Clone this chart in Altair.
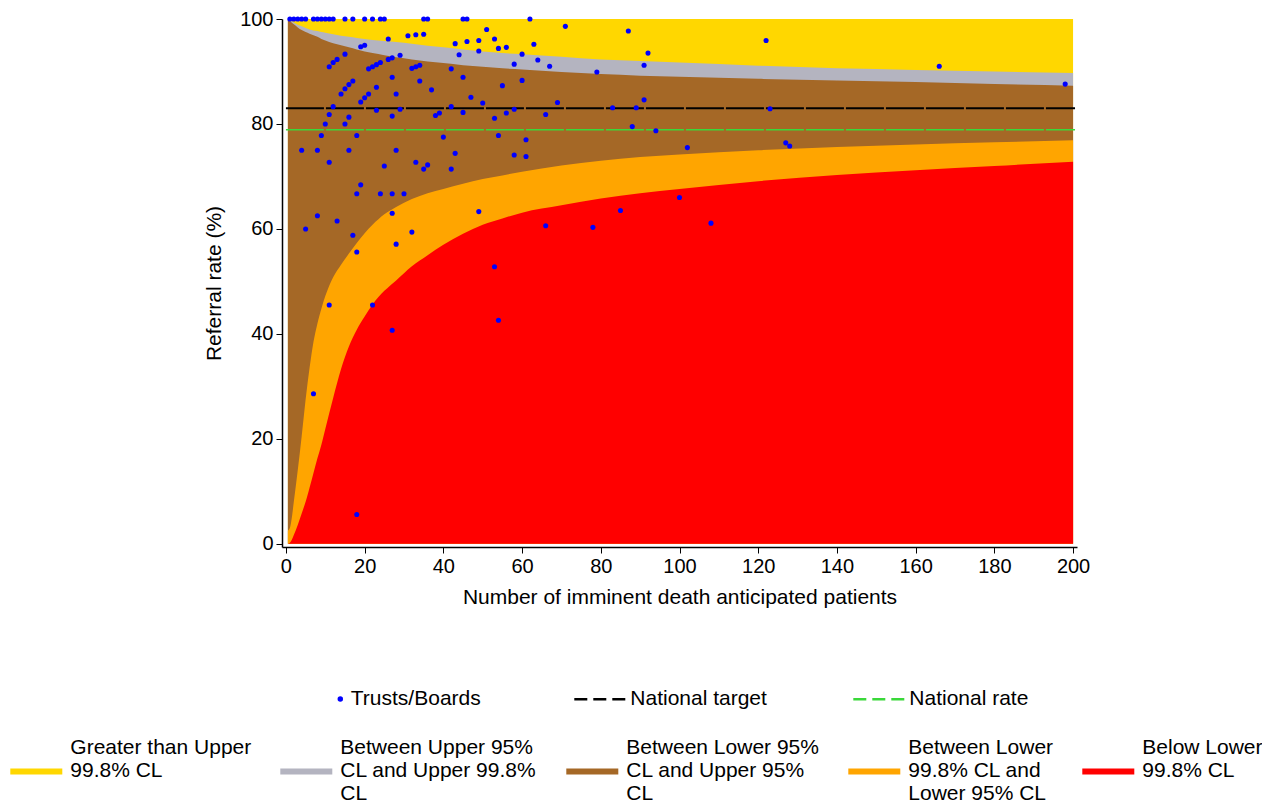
import altair as alt
import pandas as pd

# ---- funnel limits (referral rate %, by number of patients) ----
n_grid = [0.5, 1, 1.5, 2, 3, 4, 5, 6, 7, 8, 9, 10, 12, 14, 16, 18, 20, 22, 25, 28,
          32, 36, 40, 45, 50, 55, 60, 70, 80, 90, 100, 120, 140, 160, 180, 200]
upper_998 = [100, 99.7, 99.5, 99.3, 98.9, 98.6, 98.3, 98.0, 97.8, 97.7, 97.5, 97.4,
             97.1, 96.8, 96.6, 96.4, 96.2, 96.0, 95.8, 95.6, 95.3, 94.9, 94.6, 94.2,
             93.8, 93.5, 93.3, 92.8, 92.3, 92.0, 91.7, 91.1, 90.6, 90.3, 90.0, 89.7]
upper_95 = [100, 99.6, 99.3, 99.0, 98.4, 97.9, 97.5, 97.2, 96.9, 96.6, 96.2, 95.9,
            95.4, 95.0, 94.6, 94.2, 93.8, 93.5, 93.1, 92.7, 92.3, 91.9, 91.6, 91.2,
            90.9, 90.6, 90.4, 89.9, 89.5, 89.2, 89.0, 88.6, 88.3, 88.0, 87.6, 87.3]
lower_95 = [2.5, 3.0, 5.0, 8.0, 14.0, 20.5, 27.5, 33.5, 38.5, 42.0, 44.8, 47.2,
            50.8, 53.2, 55.3, 57.3, 59.2, 60.8, 62.8, 64.2, 65.7, 66.8, 67.6, 68.6,
            69.5, 70.2, 70.9, 72.1, 73.0, 73.7, 74.2, 75.0, 75.6, 76.1, 76.5, 76.9]
lower_998 = [0.0, 0.2, 0.8, 1.7, 3.6, 5.8, 8.0, 10.7, 13.5, 16.3, 18.9, 21.9,
             27.8, 33.3, 37.6, 40.8, 43.3, 45.6, 48.2, 50.2, 52.9, 55.0, 57.0, 59.1,
             60.8, 62.0, 63.1, 64.5, 65.8, 66.8, 67.6, 69.1, 70.3, 71.2, 72.0, 72.8]
plot_top = 100
plot_bottom = 0

band_labels = [
    "Greater than Upper|99.8% CL|",
    "Between Upper 95%|CL and Upper 99.8%|CL",
    "Between Lower 95%|CL and Upper 95%|CL",
    "Between Lower|99.8% CL and|Lower 95% CL",
    "Below Lower|99.8% CL|",
]
band_colors = ["#FFD700", "#B4B4C0", "#A56826", "#FFA500", "#FF0000"]

# ---- Trusts/Boards (number of patients, referral rate %) ----
trust_n = [1, 2, 3, 4, 5, 7, 8, 9, 10, 11, 12, 15, 17, 20, 22, 24, 25, 35, 36, 45, 46, 62,
           26, 31, 33, 35, 19, 20, 15, 29, 11, 12, 13, 26, 27, 21, 22, 23, 24, 32, 33, 34,
           27, 34, 17, 16, 15, 14, 23, 21, 20, 19, 28, 12, 23, 29, 11, 27, 16, 10, 15, 9,
           18, 4, 8, 16, 28,
           11, 25, 33, 19, 18, 24, 27, 30, 8, 13, 27, 5, 17, 32, 18, 28,
           11, 22, 27, 7, 18,
           43, 51, 46, 49, 53, 54, 56, 63, 44, 49, 60, 58, 64, 67, 42, 45, 37, 55, 60, 47,
           50, 42, 69, 39, 38, 45, 56, 58, 66, 53, 40, 54, 61,
           43, 58, 61, 36, 35, 42, 49, 66, 53, 54, 85, 78,
           71, 87, 92, 91, 79, 91, 83, 89, 88, 94, 102,
           122, 166, 198, 123, 127, 128, 100, 108]
trust_rate = [100, 100, 100, 100, 100, 100, 100, 100, 100, 100, 100, 100, 100, 100, 100,
              100, 100, 100, 100, 100, 100, 100,
              96.2, 96.8, 97.0, 97.1, 94.7, 95.0, 93.3, 93.1, 90.9, 91.7, 92.3, 92.3, 92.6,
              90.5, 90.9, 91.3, 91.7, 90.6, 90.9, 91.2,
              88.9, 88.2, 88.2, 87.5, 86.7, 85.7, 87.0, 85.7, 85.0, 84.2, 85.7, 83.3, 82.6,
              82.8, 81.8, 81.5, 81.3, 80.0, 80.0, 77.8, 77.8, 75.0, 75.0, 75.0, 75.0,
              72.7, 72.0, 72.7, 68.4, 66.7, 66.7, 66.7, 66.7, 62.5, 61.5, 63.0, 60.0, 58.8,
              59.4, 55.6, 57.1,
              45.5, 45.5, 40.7, 28.6, 5.6,
              95.3, 98.0, 95.7, 95.9, 96.2, 94.4, 94.6, 95.2, 93.2, 93.9, 93.3, 91.4, 92.2,
              91.0, 90.5, 88.9, 86.5, 87.3, 88.3, 85.1, 84.0, 83.3, 84.1, 82.1, 81.6, 82.2,
              82.1, 82.8, 81.8, 81.1, 77.5, 77.8, 77.0,
              74.4, 74.1, 73.8, 72.2, 71.4, 71.4, 63.3, 60.6, 52.8, 42.6, 63.5, 60.3,
              98.6, 97.7, 93.5, 91.2, 89.9, 84.6, 83.1, 83.1, 79.5, 78.7, 75.5,
              95.9, 91.0, 87.6, 82.9, 76.4, 75.8, 66.0, 61.1]

line_labels = ["National target", "National rate"]
line_values = [83.0, 78.9]
line_colors = ["#000000", "#3AD83A"]
line_widths = [2.0, 1.6]

FONT = "Liberation Sans"

# ---- tables ----
edges = [upper_998, upper_95, lower_95, lower_998]
band_tables = []
top_edges = [[plot_top] * len(n_grid)] + edges
for label, hi in zip(band_labels, top_edges):
    band_tables.append(pd.DataFrame({
        "band": label, "n": n_grid, "hi": hi, "lo": [plot_bottom] * len(n_grid)}))

trusts = pd.DataFrame({"n": trust_n, "rate": trust_rate, "series": "Trusts/Boards"})
lines = pd.DataFrame({"series": line_labels, "value": line_values, "w": line_widths})

xscale = alt.Scale(domain=[-1, 201], nice=False, zero=False)
yscale = alt.Scale(domain=[-0.6, 100], nice=False, zero=False)
xaxis = alt.Axis(values=list(range(0, 201, 20)),
                 title="Number of imminent death anticipated patients",
                 tickSize=6, labelPadding=3, titlePadding=10)
yaxis = alt.Axis(values=[0, 20, 40, 60, 80, 100], title="Referral rate (%)",
                 tickSize=6, labelPadding=3, titlePadding=15)

fill_enc = alt.Fill(
    "band:N",
    scale=alt.Scale(domain=band_labels, range=band_colors),
    legend=alt.Legend(
        title=None, orient="none", legendX=-271.7, legendY=703,
        direction="horizontal", columns=5, columnPadding=29, gridAlign="each",
        symbolType="M-1,0.785H1V1.015H-1Z", symbolSize=2704, symbolStrokeWidth=0,
        symbolOpacity=1, labelExpr="split(datum.label, '|')", labelFontSize=21,
        labelFont=FONT, labelColor="black", labelLimit=400, labelOffset=8,
        padding=0,
    ),
)

layers = []
for tbl in band_tables:
    layers.append(
        alt.Chart(tbl).mark_area(interpolate="monotone", opacity=1).encode(
            x=alt.X("n:Q", scale=xscale, axis=xaxis),
            y=alt.Y("hi:Q", scale=yscale, axis=yaxis, stack=False),
            y2="lo:Q",
            fill=fill_enc,
        )
    )

stroke_enc = alt.Stroke(
    "series:N",
    scale=alt.Scale(domain=line_labels, range=line_colors),
    legend=alt.Legend(
        title=None, orient="none", legendX=290.8, legendY=652.5,
        direction="horizontal", columns=2, columnPadding=80,
        symbolType="stroke", symbolSize=2704, symbolStrokeWidth=2.5,
        symbolDash=[13, 6], labelFontSize=21, labelFont=FONT, labelColor="black",
        labelOffset=2.5, padding=0,
    ),
)

rules = alt.Chart(lines).mark_rule(strokeDash=[38, 2]).encode(
    x=alt.datum(0, scale=xscale),
    x2=alt.datum(200.5),
    y=alt.Y("value:Q", scale=yscale),
    stroke=stroke_enc,
    strokeWidth=alt.StrokeWidth("w:Q", scale=None),
)

points = alt.Chart(trusts).mark_circle(size=26, opacity=1).encode(
    x=alt.X("n:Q", scale=xscale),
    y=alt.Y("rate:Q", scale=yscale),
    color=alt.Color(
        "series:N",
        scale=alt.Scale(domain=["Trusts/Boards"], range=["#0000FF"]),
        legend=alt.Legend(
            title=None, orient="none", legendX=47.8, legendY=669.5,
            symbolType="circle", symbolSize=30, labelFontSize=21, labelFont=FONT,
            labelColor="black", labelOffset=0, padding=0,
        ),
    ),
)

chart = alt.layer(*layers, rules, points).properties(
    width=795, height=528,
    autosize=alt.AutoSizeParams(type="none"),
    padding={"left": 274, "top": 11, "right": 185, "bottom": 259},
).configure_axis(
    labelFont=FONT, titleFont=FONT, labelFontSize=20, titleFontSize=21,
    titleFontWeight="normal", labelColor="black", titleColor="black",
    domainColor="black", tickColor="black", grid=False, domainWidth=1.5,
).configure_view(strokeWidth=0)

chart.save("out.html", embed_options={"renderer": "svg", "actions": False})
